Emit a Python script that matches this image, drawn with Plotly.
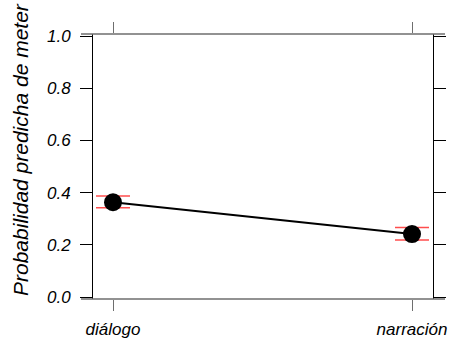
import plotly.graph_objects as go

# Predicted probability by text type, with confidence limits
categories = ["diálogo", "narración"]
fit = [0.363, 0.241]
upper = [0.387, 0.266]
lower = [0.342, 0.218]
y_ticks = [0.0, 0.2, 0.4, 0.6, 0.8, 1.0]
y_ticklabels = ["0.0", "0.2", "0.4", "0.6", "0.8", "1.0"]
y_title = "Probabilidad predicha de meter"

W, H = 453, 339
L, R, T, B = 93, 20, 34, 40
plot_w = W - L - R
plot_h = H - T - B

font_family = "Liberation Sans, Arial, Helvetica, sans-serif"
x_pos = list(range(len(categories)))

fig = go.Figure()
fig.add_trace(go.Scatter(
    x=x_pos, y=fit,
    mode="lines+markers",
    line=dict(color="black", width=2),
    marker=dict(color="black", size=18),
    error_y=dict(
        type="data", symmetric=False,
        array=[u - f for u, f in zip(upper, fit)],
        arrayminus=[f - l for f, l in zip(fit, lower)],
        color="#ff4d4d", thickness=1.5, width=17,
    ),
    showlegend=False, hoverinfo="skip",
))

# horizontal frame lines reach a little past the vertical ones
ext = 12 / plot_w
grey = "#6e6e6e"
for yy in (0, 1):
    fig.add_shape(type="line", xref="paper", yref="paper",
                  x0=-ext, x1=1 + ext, y0=yy, y1=yy,
                  line=dict(color=grey, width=1.5))

fig.add_annotation(
    text=y_title, textangle=-90,
    xref="paper", yref="paper",
    x=(20 - L) / plot_w, y=(299 - 150) / plot_h, xanchor="center", yanchor="middle",
    showarrow=False,
    font=dict(family=font_family, size=21, color="black", style="italic"),
)

fig.update_layout(
    width=W, height=H,
    margin=dict(l=L, r=R, t=T, b=B, pad=0, autoexpand=False),
    paper_bgcolor="white", plot_bgcolor="white",
    font=dict(family=font_family, color="black"),
    xaxis=dict(
        range=[-20 / 299, 1 + 21 / 299],
        tickvals=x_pos, ticktext=categories,
        showgrid=False, zeroline=False,
        showline=False, mirror="ticks", automargin=False,
        ticks="outside", ticklen=11, tickcolor=grey, tickwidth=1,
        ticklabelstandoff=4,
        tickfont=dict(family=font_family, size=17, style="italic"),
    ),
    yaxis=dict(
        range=[-2 / 261, 1 + 2 / 261],
        tickvals=y_ticks, ticktext=y_ticklabels,
        showgrid=False, zeroline=False,
        showline=True, linecolor="black", linewidth=1, mirror="ticks",
        automargin=False,
        ticks="outside", ticklen=12, tickcolor="black", tickwidth=1,
        ticklabelstandoff=6,
        tickfont=dict(family=font_family, size=17, style="italic"),
    ),
)

fig.write_html("out.html")
